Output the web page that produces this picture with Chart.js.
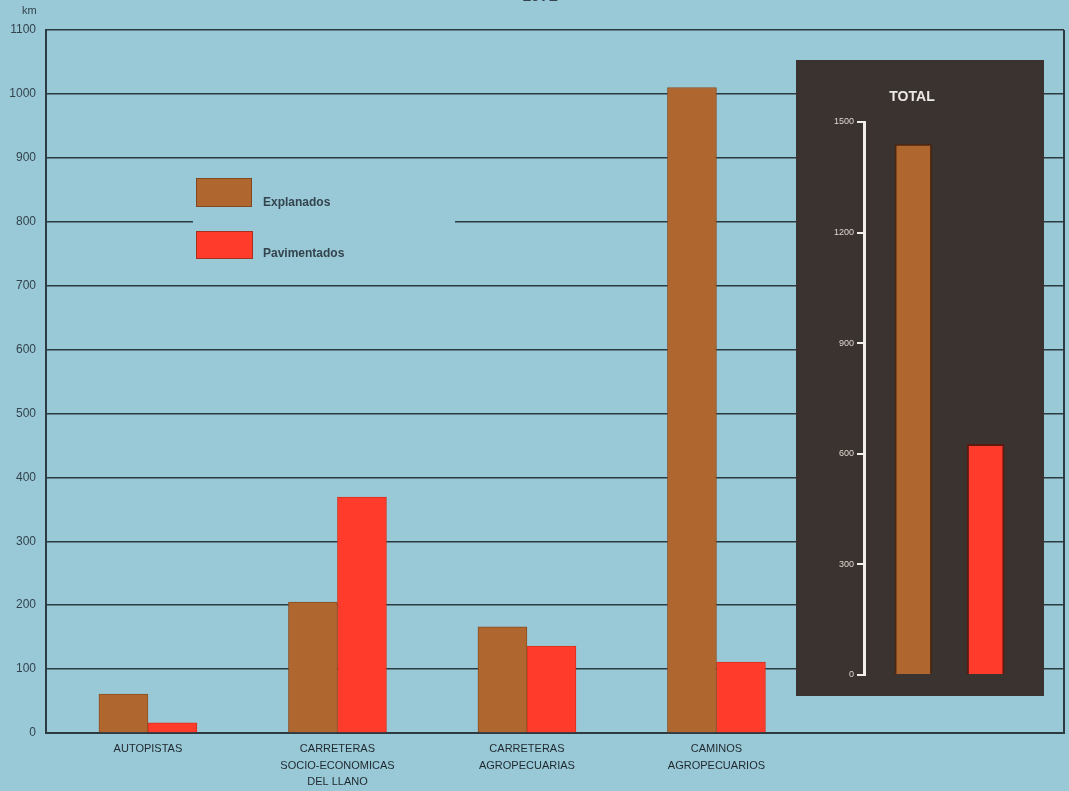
<!DOCTYPE html>
<html>
<head>
<meta charset="utf-8">
<script src="https://cdn.jsdelivr.net/npm/chart.js@4"></script>
<style>
    body { margin: 0; background: #99c8d6; }
    #wrap { position: relative; width: 1069px; height: 791px; overflow: hidden; }
    #main { position: absolute; left: 0; top: 0; }
    #total { position: absolute; left: 796px; top: 60px; background: #3a3330; }
</style>
</head>
<body>
<div id="wrap">
    <canvas id="main" width="1069" height="791"></canvas>
    <canvas id="total" width="248" height="636"></canvas>
</div>
<script>
const categories = [
    'AUTOPISTAS',
    ['CARRETERAS', 'SOCIO-ECONOMICAS', 'DEL LLANO'],
    ['CARRETERAS', 'AGROPECUARIAS'],
    ['CAMINOS', 'AGROPECUARIOS']
];
const explanados = [61, 205, 166, 1010];
const pavimentados = [16, 369, 136, 111];
const yTicks = [0, 100, 200, 300, 400, 500, 600, 700, 800, 900, 1000, 1100];

const totalValues = [1440, 626];
const totalTicks = [0, 300, 600, 900, 1200, 1500];

const seriesLabels = ['Explanados', 'Pavimentados'];
const bgColor = '#99c8d6';
const brown = '#b0672f';
const red = '#ff3b2b';
const ink = '#34444e';
const gridColor = '#2c3a42';

// main chart extras: frame, legend, km label
const mainDecor = {
    id: 'mainDecor',
    beforeDatasetsDraw(chart)
    {
        const { ctx, chartArea: { top, bottom, right } } = chart;
        ctx.save();
        // right border of the frame
        ctx.strokeStyle = gridColor;
        ctx.lineWidth = 2;
        ctx.beginPath();
        ctx.moveTo(right, top);
        ctx.lineTo(right, bottom);
        ctx.stroke();
        // the 800 line is broken behind the legend
        const y800 = chart.scales.y.getPixelForValue(800);
        ctx.fillStyle = bgColor;
        ctx.fillRect(193, y800 - 3, 262, 6);
        ctx.restore();
    },
    afterDraw(chart)
    {
        const { ctx } = chart;
        ctx.save();
        ctx.fillStyle = ink;
        ctx.font = '11px "Liberation Sans", sans-serif';
        ctx.textAlign = 'left';
        ctx.textBaseline = 'middle';
        ctx.fillText('km', 22, 11);

        ctx.font = 'bold 16px "Liberation Sans", sans-serif';
        ctx.textAlign = 'center';
        ctx.textBaseline = 'alphabetic';
        ctx.fillText('1972', 540, 1);

        // legend
        const boxes = [
            { x: 196, y: 178, w: 56, h: 29, ty: 203 },
            { x: 196, y: 231, w: 57, h: 28, ty: 254 }
        ];
        chart.data.datasets.forEach((ds, i) =>
        {
            const b = boxes[i];
            ctx.fillStyle = ds.backgroundColor;
            ctx.fillRect(b.x, b.y, b.w, b.h);
            ctx.strokeStyle = 'rgba(80,40,20,0.5)';
            ctx.lineWidth = 1;
            ctx.strokeRect(b.x + 0.5, b.y + 0.5, b.w - 1, b.h - 1);
            ctx.fillStyle = ink;
            ctx.font = 'bold 12px "Liberation Sans", sans-serif';
            ctx.textAlign = 'left';
            ctx.textBaseline = 'middle';
            ctx.fillText(ds.label, 263, b.ty);
        });
        ctx.restore();
    }
};

new Chart(document.getElementById('main').getContext('2d'), {
    type: 'bar',
    data: {
        datasets: [
            {
                label: seriesLabels[0],
                data: explanados.map((v, i) => ({ x: i, y: v })),
                backgroundColor: brown,
                borderColor: '#8a4e22',
                borderWidth: 1
            },
            {
                label: seriesLabels[1],
                data: pavimentados.map((v, i) => ({ x: i, y: v })),
                backgroundColor: red,
                borderColor: '#d9301f',
                borderWidth: 1
            }
        ]
    },
    options: {
        responsive: false,
        animation: false,
        barThickness: 49,
        layout: { padding: { top: 30, right: 5, left: 0, bottom: 0 } },
        plugins: {
            legend: { display: false },
            tooltip: { enabled: false }
        },
        scales: {
            x: {
                type: 'linear',
                offset: false,
                min: -0.538,
                max: 4.834,
                afterBuildTicks: scale => { scale.ticks = categories.map((c, i) => ({ value: i })); },
                afterFit: scale => { scale.height = 58; },
                grid: { display: false },
                border: { display: true, color: gridColor, width: 2 },
                ticks: {
                    autoSkip: false,
                    maxRotation: 0,
                    padding: 0,
                    color: '#1f282e',
                    font: { family: '"Liberation Sans", sans-serif', size: 11, lineHeight: 1.5 },
                    callback: value => categories[value]
                }
            },
            y: {
                min: 0,
                max: 1100,
                afterBuildTicks: scale => { scale.ticks = yTicks.map(v => ({ value: v })); },
                afterFit: scale => { scale.width = 46; },
                grid: { color: gridColor, lineWidth: 1.5, drawTicks: false },
                border: { display: true, color: gridColor, width: 2 },
                ticks: {
                    padding: 10,
                    color: ink,
                    font: { family: '"Liberation Sans", sans-serif', size: 12 },
                    callback: value => String(value)
                }
            }
        }
    },
    plugins: [mainDecor]
});

// inset "TOTAL" chart
const totalTitle = {
    id: 'totalTitle',
    afterDraw(chart)
    {
        const { ctx } = chart;
        ctx.save();
        ctx.fillStyle = '#ece8e2';
        ctx.font = 'bold 14px "Liberation Sans", sans-serif';
        ctx.textAlign = 'center';
        ctx.textBaseline = 'middle';
        ctx.fillText('TOTAL', 116, 37);
        ctx.restore();
    }
};

new Chart(document.getElementById('total').getContext('2d'), {
    type: 'bar',
    data: {
        datasets: [{
            label: 'Total',
            data: totalValues.map((v, i) => ({ x: i, y: v })),
            backgroundColor: [brown, red],
            borderColor: ['#4a2614', '#5a1a12'],
            borderWidth: 2
        }]
    },
    options: {
        responsive: false,
        animation: false,
        barThickness: 37,
        layout: { padding: { top: 62, right: 0, left: 0, bottom: 21 } },
        plugins: {
            legend: { display: false },
            tooltip: { enabled: false }
        },
        scales: {
            x: {
                type: 'linear',
                display: false,
                offset: false,
                min: -0.681,
                max: 1.806
            },
            y: {
                min: 0,
                max: 1500,
                afterBuildTicks: scale => { scale.ticks = totalTicks.map(v => ({ value: v })); },
                afterFit: scale => { scale.width = 68; },
                grid: { drawOnChartArea: false, color: '#f2eee8', lineWidth: 2, tickLength: 7 },
                border: { display: true, color: '#f2eee8', width: 3 },
                ticks: {
                    padding: 3,
                    color: '#ddd8d0',
                    font: { family: '"Liberation Sans", sans-serif', size: 9 },
                    callback: value => String(value)
                }
            }
        }
    },
    plugins: [totalTitle]
});
</script>
</body>
</html>
